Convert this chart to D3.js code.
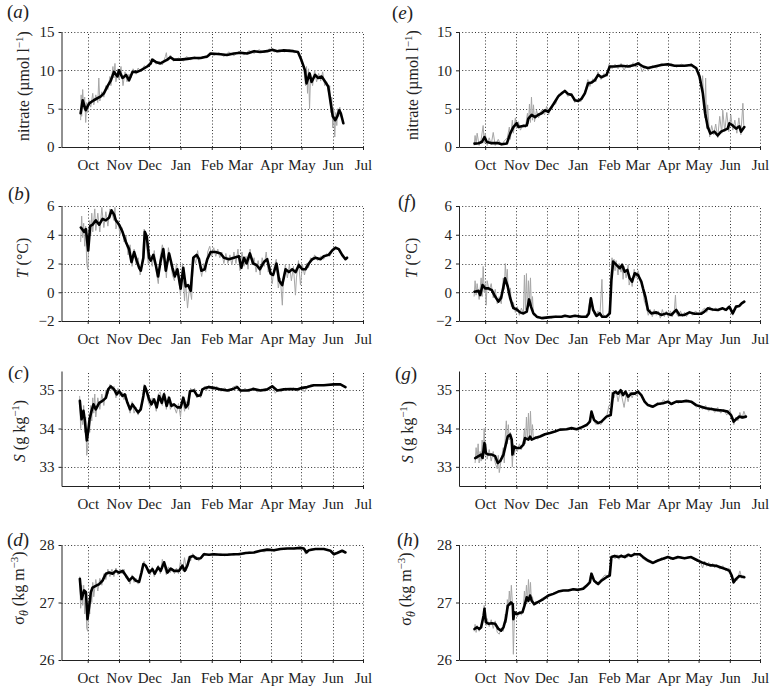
<!DOCTYPE html>
<html><head><meta charset="utf-8">
<script src="https://cdn.jsdelivr.net/npm/d3@7"></script>
<style>
body{margin:0;background:#fff}
svg{display:block}
text{font-family:"Liberation Serif","DejaVu Serif","Noto Serif",serif;fill:#222}
</style>
</head><body>
<svg id="chart" width="770" height="686"></svg>
<script>
// ---------------- DATA ----------------
// x = days since 1 Sep (year 1), y = value
const months = ["Oct","Nov","Dec","Jan","Feb","Mar","Apr","May","Jun","Jul"];
const nitrateTicks = [0,5,10,15];
const tempTicks = [-2,0,2,4,6];
const salTicks = [33,34,35];
const sigmaTicks = [26,27,28];

// (a) nitrate, left site
const nitrateA_smooth = [[23,4.4],[25,6.1],[28,4.8],[31.5,5.7],[36,6.1],[43,6.6],[46,7.0],[49.5,7.9],[53,8.7],[56,9.8],[59.5,9.2],[61,10.0],[64.5,9.0],[68,9.4],[71,8.7],[74.5,9.8],[79,9.8],[82.5,10.0],[89,10.5],[92.5,10.9],[94,11.4],[97.5,11.1],[102,10.9],[109,11.4],[112,11.7],[115.5,11.4],[122,11.4],[129,11.5],[135,11.6],[142,11.6],[148.5,11.8],[152,12.2],[162,12.1],[168,12.0],[175,12.2],[181.5,12.3],[188,12.2],[195,12.5],[201,12.4],[208,12.5],[213,12.7],[218,12.5],[224.5,12.6],[234,12.5],[238.5,12.4],[242,11.3],[245.5,10.0],[247,8.3],[250,9.6],[252,8.5],[255.5,9.4],[258.5,9.0],[262,9.2],[265.5,8.5],[268.5,7.9],[271,5.7],[273,4.0],[275.5,3.5],[277.5,4.0],[279.5,4.8],[281,4.4],[283.5,3.1]];
const nitrateA_raw = [[23,3.5],[23.5,6.8],[24,4.0],[25,7.5],[26,5.0],[27,6.5],[28,3.2],[29,5.8],[30,4.5],[31,6.2],[33,5.2],[35,7.0],[36,5.5],[38,6.8],[40,5.8],[41,9.0],[42,6.0],[44,7.2],[46,6.5],[48,8.0],[50,7.5],[52,9.2],[53,8.0],[55,10.5],[56,9.0],[57,10.9],[58,8.5],[60,10.2],[61,8.8],[63,10.5],[65,8.0],[67,9.8],[69,8.5],[71,9.5],[73,9.0],[75,10.2],[78,9.5],[80,10.3],[83,9.8],[86,10.6],[89,10.4],[92,11.2],[95,11.5],[98,10.8],[101,11.2],[104,10.7],[107,11.8],[108,12.3],[109,11.2],[112,12.0],[115,11.2],[120,11.6],[125,11.2],[128,11.8],[132,11.4],[136,11.8],[140,11.4],[144,11.8],[148,11.6],[151,12.3],[155,11.9],[160,12.3],[165,11.8],[170,12.4],[175,11.9],[180,12.5],[185,12.0],[190,12.6],[195,12.2],[200,12.7],[205,12.3],[210,12.8],[215,12.4],[220,12.7],[225,12.4],[230,12.7],[235,12.3],[239,12.4],[242,11.0],[244,10.5],[246,8.0],[247,10.5],[248,7.0],[249,10.2],[250,5.0],[251,9.5],[253,8.0],[255,10.0],[257,8.5],[259,9.6],[261,8.6],[263,9.8],[265,8.0],[267,8.5],[269,7.0],[270,8.0],[271,4.5],[272,6.5],[273,2.5],[274,4.8],[275,1.3],[276,4.5],[277,2.8],[278,5.0],[279,4.0],[280,5.2],[281,4.0],[283,3.4]];

// (e) nitrate, right site
const nitrateE_smooth = [[19.4,0.44],[23.4,0.5],[26.7,0.65],[29.3,1.3],[31.7,0.65],[36.6,0.5],[43.2,0.5],[46.5,0.35],[51.5,0.45],[54.8,1.75],[58,2.6],[61.4,3.1],[63,2.6],[66.3,2.7],[71.3,2.8],[72.9,3.7],[76.2,4.2],[79.5,3.9],[82.8,4.2],[86.1,4.4],[89.4,4.8],[92.7,4.6],[96,5.2],[99.3,5.9],[102.6,6.6],[105.9,7.0],[109.2,7.3],[112.5,6.9],[115.8,6.8],[119.1,6.1],[122.4,6.0],[125.7,6.3],[129,7.0],[132.3,8.3],[135.6,8.4],[138.9,8.7],[142.2,9.4],[145.5,9.1],[150.5,9.4],[153.8,10.5],[158.7,10.5],[165.3,10.6],[171.9,10.5],[178.5,10.7],[181.8,10.9],[186.8,10.5],[191.7,10.3],[198.3,10.5],[204.9,10.7],[211.5,10.8],[218.1,10.6],[228,10.6],[234.6,10.7],[239.6,10.3],[242.9,9.2],[246.2,7.0],[248.5,4.4],[251.1,2.6],[253.7,1.75],[257.7,2.0],[261,1.5],[264.3,2.0],[267.6,2.2],[270.9,2.4],[272.6,3.1],[275.9,2.8],[279.2,2.4],[282.5,2.7],[284.1,2.0],[287.4,2.6]];
const nitrateE_raw = [[19,0.2],[20,1.5],[21,0.3],[22,1.8],[24,0.2],[26,1.0],[28,2.8],[29,0.5],[30,1.8],[32,0.2],[34,1.2],[36,0.3],[38,1.9],[40,0.2],[43,1.0],[46,0.2],[49,0.8],[52,1.2],[54,2.6],[55,1.0],[57,3.5],[58,1.8],[60,3.8],[61,2.4],[63,3.3],[65,2.2],[68,3.0],[70,2.5],[72,4.4],[73,3.0],[74,5.6],[75,3.2],[76,6.5],[77,3.5],[78,5.5],[79,3.3],[81,4.8],[83,3.8],[86,4.8],[89,4.2],[91,5.3],[93,4.2],[96,5.5],[100,5.6],[103,6.9],[106,6.8],[109,7.5],[112,6.6],[116,7.0],[119,5.8],[122,6.2],[125,5.9],[129,7.2],[132,8.8],[134,7.9],[137,8.9],[140,8.5],[142,9.8],[145,8.8],[148,9.6],[151,9.2],[153,10.8],[156,10.2],[159,10.8],[162,10.2],[165,10.9],[168,10.0],[171,10.8],[174,10.3],[177,11.0],[180,10.4],[183,11.1],[186,9.8],[189,10.5],[192,10.0],[196,10.6],[200,10.3],[205,10.9],[210,10.6],[215,10.9],[220,10.4],[225,10.8],[230,10.5],[235,10.9],[240,10.2],[243,9.5],[245,7.5],[246,9.3],[248,3.8],[249,9.0],[250,2.4],[251,5.5],[253,1.3],[255,2.8],[257,1.6],[259,3.0],[261,1.2],[263,4.0],[265,1.8],[266,4.8],[268,2.0],[270,4.5],[272,2.0],[274,4.2],[276,2.2],[278,3.5],[280,1.8],[282,3.8],[284,1.6],[286,5.7],[287,2.4]];

// (b) temperature, left site
const tempB_smooth = [[23.2,4.5],[26.5,4.2],[28.2,4.4],[30.5,2.9],[32.4,4.6],[34.8,4.7],[38,5.0],[41.4,4.7],[44.7,5.1],[48,5.0],[51.3,5.2],[53.6,5.7],[56.2,5.4],[57.9,5.0],[61.2,4.7],[64.5,4.2],[67.8,3.5],[71,3.0],[73.4,2.1],[76,2.8],[78.6,2.2],[81,1.7],[82.6,1.5],[85.2,2.4],[86.6,4.2],[88.5,3.9],[90.9,2.4],[92.5,2.2],[95.1,2.6],[97.5,1.9],[99.8,1.1],[102.4,2.2],[105,3.0],[107.4,1.5],[110.7,2.7],[114,1.7],[116.3,1.1],[118.9,1.6],[122.2,0.25],[124.8,1.7],[127.2,0.4],[129.5,0.5],[132.1,0.1],[134.7,2.4],[138,2.6],[140.4,2.3],[142.7,1.5],[146,1.6],[148.6,2.3],[151.9,2.8],[156.9,2.8],[161.8,2.7],[165.1,2.4],[170,2.3],[175,2.4],[180,2.5],[182.3,1.7],[184.9,2.4],[187.5,2.0],[190.8,2.7],[194.1,2.0],[197.4,1.9],[200.7,1.6],[204.7,2.1],[208,2.3],[211.3,1.3],[213.9,1.2],[217.2,2.0],[219.9,0.8],[222.9,0.5],[226.2,1.6],[229.5,1.4],[232.8,1.6],[236.1,1.4],[239.4,1.9],[242.7,1.6],[246,1.6],[249.3,2.0],[252.6,2.3],[255.9,2.4],[260.8,2.3],[264.1,2.5],[269,2.6],[272.4,2.9],[275.7,3.1],[279,3.0],[282.3,2.6],[285.6,2.3],[287.2,2.4]];
const tempB_raw = [[23,3.5],[24,5.3],[25,3.8],[26,4.8],[27,3.2],[28,4.6],[29,2.0],[30,1.6],[31,3.5],[32,5.0],[33,4.0],[34,5.5],[35,4.2],[37,5.8],[38,4.3],[40,5.5],[42,4.2],[44,5.9],[46,4.5],[48,5.6],[50,4.6],[52,5.8],[54,5.5],[56,5.0],[57,5.9],[58,4.4],[60,5.0],[62,4.0],[64,4.5],[66,3.5],[68,3.9],[70,2.6],[72,3.3],[74,1.8],[76,3.0],[78,1.9],[80,2.4],[82,1.2],[84,2.0],[86,4.4],[88,3.6],[90,2.0],[92,2.6],[94,1.8],[96,2.9],[98,1.4],[100,0.6],[102,2.5],[104,3.3],[106,2.6],[108,1.0],[110,3.1],[112,2.2],[114,1.2],[116,0.8],[118,2.0],[120,1.0],[122,-0.2],[124,2.0],[126,-0.6],[127,0.8],[129,-1.1],[131,0.4],[133,-0.5],[135,2.5],[137,2.0],[139,2.9],[141,1.9],[143,1.1],[145,2.0],[147,1.4],[149,2.8],[151,3.2],[153,2.5],[155,3.1],[157,2.5],[159,3.0],[161,2.4],[163,2.8],[165,2.0],[167,2.7],[169,2.0],[171,2.6],[173,1.9],[175,2.8],[177,2.0],[179,3.0],[181,1.5],[183,2.8],[185,1.8],[187,2.5],[189,1.6],[191,3.0],[193,1.9],[195,2.4],[197,1.4],[199,2.2],[201,1.2],[203,2.4],[205,1.8],[207,2.8],[209,1.4],[211,1.8],[213,0.6],[215,1.8],[217,2.3],[219,0.3],[221,1.0],[223,-0.9],[224,0.8],[226,1.9],[228,1.0],[230,1.9],[232,0.8],[234,1.8],[236,-0.2],[237,1.0],[239,2.2],[241,0.5],[243,1.9],[245,1.2],[247,2.0],[249,1.7],[251,2.4],[253,2.2],[255,2.6],[258,2.2],[261,2.5],[264,2.3],[267,2.7],[270,2.5],[273,2.9],[276,3.1],[279,2.9],[282,2.6],[285,2.3],[287,2.4]];

// (f) temperature, right site
const tempF_smooth = [[19.4,0.04],[23.4,0.1],[25,-0.2],[27.4,0.5],[30,0.27],[33.3,0.27],[36.6,0.15],[39.9,-0.3],[43.2,-0.65],[45.8,-0.4],[48.2,0.4],[49.8,0.97],[52.4,0.4],[54.8,-0.4],[58,-1.1],[61.4,-1.2],[64.7,-1.4],[68,-1.47],[71.3,-1.35],[73.6,-0.5],[75.5,-1.0],[77.9,-1.47],[81.2,-1.7],[86.1,-1.8],[92.7,-1.75],[99.3,-1.7],[105.9,-1.7],[109.2,-1.63],[114.2,-1.7],[119.1,-1.63],[125.7,-1.7],[130.7,-1.7],[133,-1.47],[135,-0.42],[137.3,-1.23],[140.6,-1.65],[143.9,-1.47],[146.2,-1.7],[150.5,-1.7],[153.8,-1.47],[155.4,0.85],[157.1,2.13],[160.4,1.9],[163.7,1.67],[166,1.9],[168.6,1.43],[171.2,1.55],[173.6,0.97],[175.9,0.74],[178.5,1.32],[181.8,1.2],[185.1,0.74],[186.8,0.27],[189.1,-0.3],[191.7,-1.23],[195,-1.47],[200,-1.4],[204.9,-1.58],[209.9,-1.47],[214.8,-1.58],[219.8,-1.23],[223,-1.58],[228,-1.58],[233,-1.4],[237.9,-1.5],[244.5,-1.5],[247.8,-1.35],[251.1,-1.12],[256,-1.2],[261,-1.23],[266,-1.12],[269.3,-1.23],[272.6,-1.0],[275.9,-1.47],[279.2,-1.0],[282.5,-0.95],[284.8,-0.77],[287.4,-0.65]];
const tempF_raw = [[19,-0.3],[20,0.8],[21,-0.2],[22,0.6],[24,-0.5],[26,1.0],[27,-0.3],[28,1.8],[29,0.0],[30,0.6],[31,-0.9],[32,0.8],[34,0.1],[36,0.6],[38,-0.4],[40,0.2],[42,-0.8],[44,-0.3],[46,-0.8],[48,1.0],[49,0.2],[50,2.0],[51,0.8],[52,1.6],[53,-0.2],[55,0.3],[56,-1.0],[58,-0.7],[60,-1.4],[62,-1.0],[64,-1.6],[66,-1.1],[68,-1.5],[69,1.2],[70,-1.2],[71,1.3],[72,-1.3],[73,0.8],[74,-0.8],[75,1.0],[76,-1.3],[77,-0.3],[78,-1.6],[80,-1.5],[82,-1.8],[85,-1.7],[88,-1.85],[92,-1.7],[96,-1.8],[100,-1.65],[105,-1.75],[110,-1.6],[115,-1.75],[120,-1.6],[125,-1.75],[130,-1.65],[132,-1.4],[134,-0.5],[136,-0.9],[138,-1.5],[140,-1.7],[142,-1.3],[144,-1.6],[146,0.9],[147,-1.5],[149,-1.7],[152,-1.5],[154,-1.2],[155,1.2],[156,2.4],[157,1.6],[158,2.3],[159,1.5],[160,2.2],[162,1.2],[163,2.0],[165,1.4],[166,2.0],[167,0.9],[168,1.8],[170,1.0],[172,1.9],[173,0.5],[175,1.0],[176,0.4],[178,1.6],[180,1.0],[182,1.5],[184,0.9],[186,0.6],[188,-0.6],[190,-1.0],[192,-1.6],[194,-1.2],[196,-1.7],[198,-1.2],[200,-1.6],[202,-1.3],[204,-1.8],[206,-1.2],[208,-1.7],[210,-1.3],[212,-1.75],[214,-1.3],[216,-1.7],[218,-1.2],[219,-0.2],[220,-1.5],[222,-1.7],[224,-1.3],[226,-1.7],[228,-1.4],[230,-1.7],[233,-1.3],[236,-1.6],[239,-1.3],[242,-1.6],[245,-1.3],[248,-1.1],[250,-1.4],[253,-1.0],[256,-1.3],[259,-1.1],[262,-1.3],[265,-1.1],[268,-1.3],[271,-1.0],[274,-1.3],[276,-1.6],[278,-1.1],[281,-1.0],[284,-0.8],[287,-0.6]];

// (c) salinity, left site
const salC_smooth = [[22.2,34.72],[23.9,34.24],[25.8,34.46],[27.2,34.2],[29.1,33.69],[30.5,33.94],[31.8,34.24],[33.8,34.46],[35.7,34.63],[38,34.5],[41.4,34.67],[44.7,34.72],[48,34.8],[50.3,35.02],[52.9,35.1],[56.2,35.02],[58.8,34.89],[61.2,34.97],[64.5,34.85],[66.8,34.89],[69.4,34.67],[72,34.5],[74.4,34.63],[77.7,34.5],[80,34.42],[82.6,34.5],[85.2,34.85],[86.6,35.1],[88.5,34.97],[90.9,34.76],[93.2,34.63],[95.8,34.76],[98.4,34.55],[100.8,34.85],[103.4,34.67],[105.7,34.89],[108.3,34.59],[110.7,34.8],[113,34.59],[115.6,34.63],[118.9,34.55],[122.2,34.55],[124.8,34.8],[127.2,34.55],[129.5,34.63],[131.4,34.97],[135.4,34.99],[138.7,34.85],[142,34.87],[143.7,35.02],[147,35.06],[150.3,35.08],[155.2,35.06],[161.8,35.02],[168.4,34.99],[175,35.04],[178.3,35.08],[181.6,34.99],[188.2,34.99],[194.8,35.03],[201.4,34.99],[208,35.02],[213,35.1],[217.9,34.99],[224.5,35.02],[231.1,35.03],[237.7,35.02],[242.7,35.06],[247.6,35.08],[254.2,35.13],[264.1,35.13],[274,35.15],[280.6,35.15],[285.6,35.08]];
const salC_raw = [[22,34.85],[23,34.0],[24,34.5],[25,34.1],[26,34.6],[27,33.9],[28,34.3],[29,33.3],[30,33.5],[31,34.2],[32,33.9],[33,34.6],[34,34.2],[35,34.8],[36,34.4],[37,34.9],[38,34.3],[40,34.8],[42,34.5],[44,34.9],[46,34.6],[48,35.0],[50,34.9],[52,35.15],[54,35.0],[56,35.1],[58,34.8],[60,35.05],[62,34.85],[64,34.95],[66,34.75],[68,34.9],[70,34.6],[72,34.4],[74,34.7],[76,34.4],[78,34.55],[80,34.35],[82,34.55],[84,34.7],[86,35.15],[88,35.0],[90,34.7],[92,34.55],[94,34.8],[96,34.7],[98,34.45],[100,34.9],[102,34.95],[104,34.6],[106,34.95],[108,34.5],[110,34.85],[112,34.5],[114,34.65],[116,34.55],[118,34.4],[120,34.65],[122,34.3],[124,34.85],[126,34.45],[128,34.7],[130,34.5],[132,35.05],[134,34.95],[136,35.05],[138,34.8],[140,34.9],[142,34.8],[144,35.05],[146,35.1],[148,35.0],[150,35.12],[154,35.0],[158,35.1],[162,34.97],[166,35.06],[170,34.95],[174,35.08],[178,35.12],[182,34.95],[186,35.05],[190,34.95],[194,35.08],[198,34.95],[202,35.03],[206,34.97],[210,35.07],[213,35.13],[216,34.92],[219,35.02],[222,34.96],[226,35.05],[230,35.0],[234,35.06],[238,34.97],[242,35.08],[245,34.95],[248,35.1],[252,35.15],[258,35.12],[264,35.15],[270,35.13],[276,35.17],[282,35.14],[286,35.07]];

// (g) salinity, right site
const salG_smooth = [[20.1,33.23],[23.4,33.28],[26,33.32],[27.4,33.23],[29.3,33.62],[30.7,33.36],[33.3,33.32],[36.6,33.32],[39.9,33.28],[42.5,33.1],[44.9,33.15],[48.2,33.32],[50.5,33.58],[52.4,33.79],[54.8,33.84],[56.4,33.71],[57.1,33.32],[59,33.53],[61.4,33.49],[64.7,33.49],[68,33.58],[69.6,33.75],[72.9,33.71],[74.6,33.79],[76.2,33.71],[79.5,33.75],[84.5,33.79],[89.4,33.85],[94.4,33.88],[99.3,33.92],[104.3,33.97],[110.9,33.98],[115.8,34.01],[120.8,33.98],[125.7,34.03],[130.7,34.09],[134,34.18],[135.6,34.44],[138.2,34.22],[142.2,34.14],[145.5,34.18],[150.5,34.31],[154.7,34.35],[157.1,34.91],[159.4,34.96],[162,34.91],[164.6,35.0],[167,34.87],[169.3,34.96],[171.9,34.83],[175.2,34.91],[178.5,34.91],[181.8,34.96],[185.1,34.87],[188.4,34.7],[191.7,34.61],[196.7,34.57],[201.6,34.64],[206.6,34.66],[211.5,34.7],[214.8,34.64],[219.8,34.7],[224.7,34.7],[229.7,34.72],[234.6,34.7],[239.6,34.61],[244.5,34.57],[249.5,34.53],[254.4,34.51],[261,34.48],[266,34.47],[270.9,34.44],[274.2,34.35],[276.8,34.18],[279.2,34.24],[282.5,34.31],[285.8,34.29],[289,34.31]];
const salG_raw = [[20,33.1],[21,33.5],[22,33.2],[23,33.6],[24,33.1],[25,33.4],[26,33.15],[27,33.7],[28,33.3],[29,34.0],[30,33.3],[31,33.6],[32,33.2],[34,33.45],[36,33.15],[38,33.4],[40,33.1],[42,32.95],[43,33.3],[44,32.85],[46,33.2],[48,33.5],[49,33.1],[50,33.8],[51,34.2],[52,33.6],[53,34.1],[54,33.7],[55,33.9],[56,33.6],[57,33.0],[58,33.6],[59,33.3],[60,33.5],[62,33.4],[64,33.6],[66,33.45],[68,33.7],[69,34.0],[70,33.6],[71,34.3],[72,33.7],[73,34.4],[74,33.7],[75,34.45],[76,33.75],[77,34.1],[78,33.7],[80,33.8],[82,33.72],[85,33.82],[88,33.82],[92,33.88],[96,33.9],[100,33.93],[104,33.96],[108,33.99],[112,33.98],[116,34.0],[120,33.98],[124,34.04],[128,34.05],[132,34.12],[134,34.25],[136,34.4],[138,34.2],[140,34.1],[142,34.15],[145,34.1],[148,34.25],[151,34.35],[153,34.6],[155,34.65],[156,34.95],[158,34.8],[160,35.0],[162,34.7],[164,34.95],[166,34.8],[168,34.55],[170,34.9],[172,34.7],[174,34.95],[176,34.8],[178,34.95],[180,34.85],[183,34.95],[186,34.8],[189,34.65],[192,34.6],[195,34.55],[198,34.6],[201,34.68],[204,34.62],[207,34.75],[210,34.68],[213,34.72],[216,34.62],[219,34.7],[222,34.66],[225,34.72],[228,34.7],[232,34.74],[236,34.66],[240,34.56],[243,34.62],[246,34.5],[249,34.6],[252,34.45],[255,34.55],[258,34.42],[261,34.55],[264,34.4],[267,34.5],[270,34.35],[273,34.5],[275,34.3],[277,34.1],[279,34.3],[281,34.2],[283,34.42],[285,34.25],[287,34.45],[289,34.3]];

// (d) sigma-theta, left site
const sigD_smooth = [[22.2,27.41],[23.9,27.06],[26.5,27.21],[28.2,27.18],[29.8,26.71],[31.5,26.94],[33.1,27.18],[34.8,27.26],[38,27.29],[41.4,27.32],[44.7,27.38],[48,27.5],[51.3,27.52],[54.6,27.5],[57.9,27.55],[61.2,27.52],[64.5,27.55],[67.8,27.47],[71,27.38],[74.4,27.44],[77.7,27.38],[81,27.36],[83.3,27.52],[85.2,27.67],[87.6,27.64],[90.9,27.52],[94.2,27.58],[96.5,27.5],[99.8,27.61],[102.4,27.55],[105.7,27.7],[109,27.52],[112.3,27.59],[115.6,27.55],[120.6,27.55],[123.9,27.64],[126.2,27.55],[128.8,27.64],[131.4,27.79],[134.7,27.81],[138,27.76],[142,27.77],[145.3,27.84],[150.3,27.83],[155.2,27.84],[161.8,27.83],[168.4,27.83],[175,27.84],[180,27.84],[186.6,27.86],[194.8,27.87],[201.4,27.9],[208,27.92],[214.6,27.91],[221.2,27.93],[227.8,27.94],[234.4,27.94],[241,27.95],[244.3,27.94],[247,27.87],[249.3,27.91],[255.9,27.93],[264.1,27.93],[270.7,27.9],[274,27.84],[277.3,27.86],[282.3,27.9],[285.6,27.87]];
const sigD_raw = [[22,27.45],[23,26.9],[24,27.3],[25,26.95],[26,27.3],[27,26.8],[28,27.2],[29,26.55],[30,26.5],[31,27.0],[32,26.8],[33,27.2],[34,27.0],[35,27.35],[36,27.1],[38,27.4],[40,27.2],[42,27.42],[44,27.3],[46,27.5],[48,27.4],[50,27.58],[52,27.45],[54,27.58],[56,27.45],[58,27.6],[60,27.48],[62,27.58],[64,27.5],[66,27.58],[68,27.42],[70,27.45],[72,27.32],[74,27.48],[76,27.35],[78,27.42],[80,27.32],[82,27.4],[84,27.6],[86,27.72],[88,27.6],[90,27.55],[92,27.48],[94,27.62],[96,27.45],[98,27.58],[100,27.65],[102,27.5],[104,27.75],[106,27.62],[108,27.48],[110,27.62],[112,27.52],[114,27.6],[116,27.5],[118,27.6],[120,27.5],[122,27.72],[124,27.55],[126,27.78],[128,27.55],[130,27.8],[132,27.72],[134,27.85],[136,27.75],[138,27.8],[140,27.72],[143,27.82],[146,27.86],[150,27.82],[154,27.86],[158,27.82],[162,27.85],[166,27.81],[170,27.85],[175,27.82],[180,27.86],[185,27.84],[190,27.88],[195,27.86],[200,27.91],[205,27.88],[210,27.93],[215,27.89],[220,27.94],[225,27.92],[230,27.95],[235,27.93],[240,27.96],[244,27.93],[246,27.84],[248,27.9],[252,27.94],[258,27.92],[264,27.94],[270,27.9],[274,27.82],[278,27.87],[282,27.9],[286,27.87]];

// (h) sigma-theta, right site
const sigH_smooth = [[19.4,26.54],[21.8,26.57],[24.1,26.54],[26,26.57],[28.4,26.77],[29.3,26.89],[30.7,26.66],[33.3,26.63],[36.6,26.64],[39.9,26.63],[43.2,26.54],[45.8,26.51],[48.2,26.57],[50.5,26.71],[52.4,26.94],[55.7,27.0],[57.4,26.97],[58,26.71],[59,26.83],[61.4,26.8],[64.7,26.82],[67,26.83],[69,26.94],[71.3,27.09],[72.9,27.03],[74.6,27.12],[76.2,27.03],[78.8,26.97],[82.8,27.01],[87.8,27.06],[92.7,27.12],[97.7,27.15],[102.6,27.19],[107.6,27.21],[112.5,27.21],[117.5,27.23],[122.4,27.22],[127.4,27.24],[130.7,27.29],[134,27.35],[135.6,27.5],[138.2,27.38],[142.2,27.32],[145.5,27.38],[150.5,27.44],[153.8,27.47],[155.4,27.79],[158.7,27.81],[162,27.79],[165.3,27.81],[168.6,27.79],[171.9,27.83],[175.2,27.81],[178.5,27.84],[183.5,27.84],[186.8,27.79],[191.7,27.73],[196.7,27.69],[201.6,27.73],[206.6,27.76],[211.5,27.79],[216.5,27.76],[221.4,27.79],[228,27.77],[234.6,27.79],[241.2,27.73],[246.2,27.69],[252.8,27.65],[259.4,27.64],[264.3,27.61],[269.3,27.58],[272.6,27.55],[274.9,27.47],[276.8,27.35],[279.2,27.41],[282.5,27.46],[287.4,27.44]];
const sigH_raw = [[19,26.5],[20,26.62],[21,26.48],[22,26.6],[24,26.5],[26,26.62],[28,26.7],[29,26.95],[30,26.75],[31,26.6],[32,26.72],[34,26.58],[36,26.7],[38,26.55],[40,26.68],[42,26.48],[44,26.45],[46,26.55],[48,26.5],[50,26.8],[51,26.65],[52,27.05],[53,26.9],[54,27.2],[55,26.95],[56,27.3],[57,27.0],[58,26.1],[59,26.75],[60,26.85],[62,26.75],[64,26.85],[66,26.78],[68,26.92],[69,27.2],[70,27.0],[71,27.3],[72,27.0],[73,27.4],[74,27.05],[75,27.35],[76,27.0],[77,27.1],[78,26.95],[80,27.02],[83,27.0],[86,27.07],[90,27.1],[94,27.13],[98,27.16],[102,27.19],[106,27.2],[110,27.22],[114,27.21],[118,27.24],[122,27.22],[126,27.25],[130,27.3],[133,27.36],[135,27.52],[137,27.42],[140,27.32],[143,27.36],[146,27.42],[149,27.48],[152,27.45],[154,27.6],[155,27.75],[157,27.82],[159,27.76],[161,27.83],[163,27.75],[165,27.84],[167,27.78],[169,27.83],[171,27.78],[173,27.85],[175,27.8],[178,27.87],[181,27.82],[184,27.86],[187,27.76],[190,27.72],[193,27.7],[196,27.67],[199,27.73],[202,27.72],[205,27.78],[208,27.74],[211,27.8],[214,27.75],[217,27.78],[220,27.76],[224,27.8],[228,27.76],[232,27.8],[236,27.76],[240,27.72],[244,27.7],[246,27.6],[248,27.72],[250,27.63],[252,27.7],[254,27.62],[256,27.68],[258,27.6],[260,27.66],[263,27.58],[266,27.64],[269,27.55],[272,27.6],[274,27.5],[276,27.35],[278,27.42],[280,27.38],[283,27.55],[285,27.42],[287,27.47]];

// ---------------- LAYOUT ----------------
const svg = d3.select("#chart");
const FONT = 'Liberation Serif, DejaVu Serif, Noto Serif, serif';
const DAY = 864e5;
const t0 = Date.UTC(2010, 8, 1);
const toDate = d => new Date(t0 + d * DAY);
const xDomain = [toDate(4), new Date(Date.UTC(2011, 6, 1))];
const monthDates = d3.utcMonth.range(new Date(Date.UTC(2010, 9, 1)), new Date(Date.UTC(2011, 6, 2)));

const cols = [{l: 61.5, r: 363}, {l: 459, r: 760}];
const rows = [{t: 32, b: 147}, {t: 206, b: 321}, {t: 371, b: 486}, {t: 545, b: 660}];

const ylabels = {
  nitrate: [{t: "nitrate (µmol l"}, {t: "−1", sup: true}, {t: ")"}],
  temp: [{t: "T", it: true}, {t: " (°C)"}],
  sal: [{t: "S", it: true}, {t: " (g kg"}, {t: "−1", sup: true}, {t: ")"}],
  sig: [{t: "σ"}, {t: "θ", sub: true, it: true}, {t: " (kg m"}, {t: "−3", sup: true}, {t: ")"}]
};

const panels = [
  {id: "a", c: 0, r: 0, dom: [0, 15], ticks: nitrateTicks, smooth: nitrateA_smooth, raw: nitrateA_raw, lab: "nitrate", lx: 29, ly: 86, px: 7, py: 18},
  {id: "b", c: 0, r: 1, dom: [-2, 6], ticks: tempTicks, smooth: tempB_smooth, raw: tempB_raw, lab: "temp", lx: 28, ly: 258, px: 8, py: 200},
  {id: "c", c: 0, r: 2, dom: [32.5, 35.5], ticks: salTicks, smooth: salC_smooth, raw: salC_raw, lab: "sal", lx: 25, ly: 431, px: 8, py: 379},
  {id: "d", c: 0, r: 3, dom: [26, 28], ticks: sigmaTicks, smooth: sigD_smooth, raw: sigD_raw, lab: "sig", lx: 24, ly: 588, px: 7, py: 546},
  {id: "e", c: 1, r: 0, dom: [0, 15], ticks: nitrateTicks, smooth: nitrateE_smooth, raw: nitrateE_raw, lab: "nitrate", lx: 418, ly: 85, px: 392, py: 19},
  {id: "f", c: 1, r: 1, dom: [-2, 6], ticks: tempTicks, smooth: tempF_smooth, raw: tempF_raw, lab: "temp", lx: 417, ly: 258, px: 398, py: 208},
  {id: "g", c: 1, r: 2, dom: [32.5, 35.5], ticks: salTicks, smooth: salG_smooth, raw: salG_raw, lab: "sal", lx: 413, ly: 432, px: 395, py: 380},
  {id: "h", c: 1, r: 3, dom: [26, 28], ticks: sigmaTicks, smooth: sigH_smooth, raw: sigH_raw, lab: "sig", lx: 411, ly: 589, px: 397, py: 546}
];

const fmtTick = v => (v < 0 ? "−" + Math.abs(v) : String(v));

panels.forEach(p => {
  const C = cols[p.c], R = rows[p.r];
  const x = d3.scaleUtc().domain(xDomain).range([C.l, C.r]);
  const y = d3.scaleLinear().domain(p.dom).range([R.b, R.t]);
  const g = svg.append("g");

  // grid
  const grid = g.append("g").attr("stroke", "#333").attr("stroke-width", 1).attr("stroke-dasharray", "1,2.2");
  grid.selectAll("line.v").data(monthDates).join("line")
    .attr("x1", d => Math.round(x(d)) + 0.5).attr("x2", d => Math.round(x(d)) + 0.5)
    .attr("y1", R.b).attr("y2", R.t);
  grid.selectAll("line.h").data(p.ticks.filter(v => v > p.dom[0])).join("line")
    .attr("x1", C.l).attr("x2", C.r)
    .attr("y1", d => Math.round(y(d)) + 0.5).attr("y2", d => Math.round(y(d)) + 0.5);

  // series
  const line = d3.line().x(d => x(toDate(d[0]))).y(d => y(d[1]));
  g.append("path").datum(p.raw).attr("d", line)
    .attr("fill", "none").attr("stroke", "#a6a6a6").attr("stroke-width", 1).attr("stroke-linejoin", "round");
  g.append("path").datum(p.smooth).attr("d", line)
    .attr("fill", "none").attr("stroke", "#000").attr("stroke-width", 2.6).attr("stroke-linejoin", "round").attr("stroke-linecap", "round");

  // axes
  const xa = g.append("g").attr("transform", `translate(0,${R.b})`)
    .call(d3.axisBottom(x).tickValues(monthDates).tickFormat((d, i) => months[i]).tickSize(3).tickSizeOuter(0).tickPadding(9));
  const ya = g.append("g").attr("transform", `translate(${C.l},0)`)
    .call(d3.axisLeft(y).tickValues(p.ticks).tickFormat(fmtTick).tickSize(3).tickSizeOuter(0).tickPadding(4));
  [xa, ya].forEach(a => {
    a.attr("font-family", FONT).attr("font-size", 15);
    a.selectAll("text").attr("font-family", FONT).attr("font-size", 15).attr("fill", "#222");
    a.selectAll("path,line").attr("stroke", "#222");
  });

  // y label
  const yl = g.append("text").attr("transform", `translate(${p.lx},${p.ly}) rotate(-90)`)
    .attr("text-anchor", "middle").attr("font-family", FONT).attr("font-size", 16).attr("fill", "#222");
  let shift = 0;
  ylabels[p.lab].forEach(s => {
    const ts = yl.append("tspan").text(s.t);
    if (s.it) ts.attr("font-style", "italic");
    let target = 0;
    if (s.sup) { target = -6; ts.attr("font-size", 11); }
    if (s.sub) { target = 4; ts.attr("font-size", 12); }
    if (target !== shift) { ts.attr("dy", target - shift); shift = target; }
  });

  // panel label
  const pl = g.append("text").attr("x", p.px).attr("y", p.py)
    .attr("font-family", FONT).attr("font-size", 19).attr("fill", "#222");
  pl.append("tspan").text("(");
  pl.append("tspan").attr("font-style", "italic").text(p.id);
  pl.append("tspan").text(")");
});
</script>
</body></html>
